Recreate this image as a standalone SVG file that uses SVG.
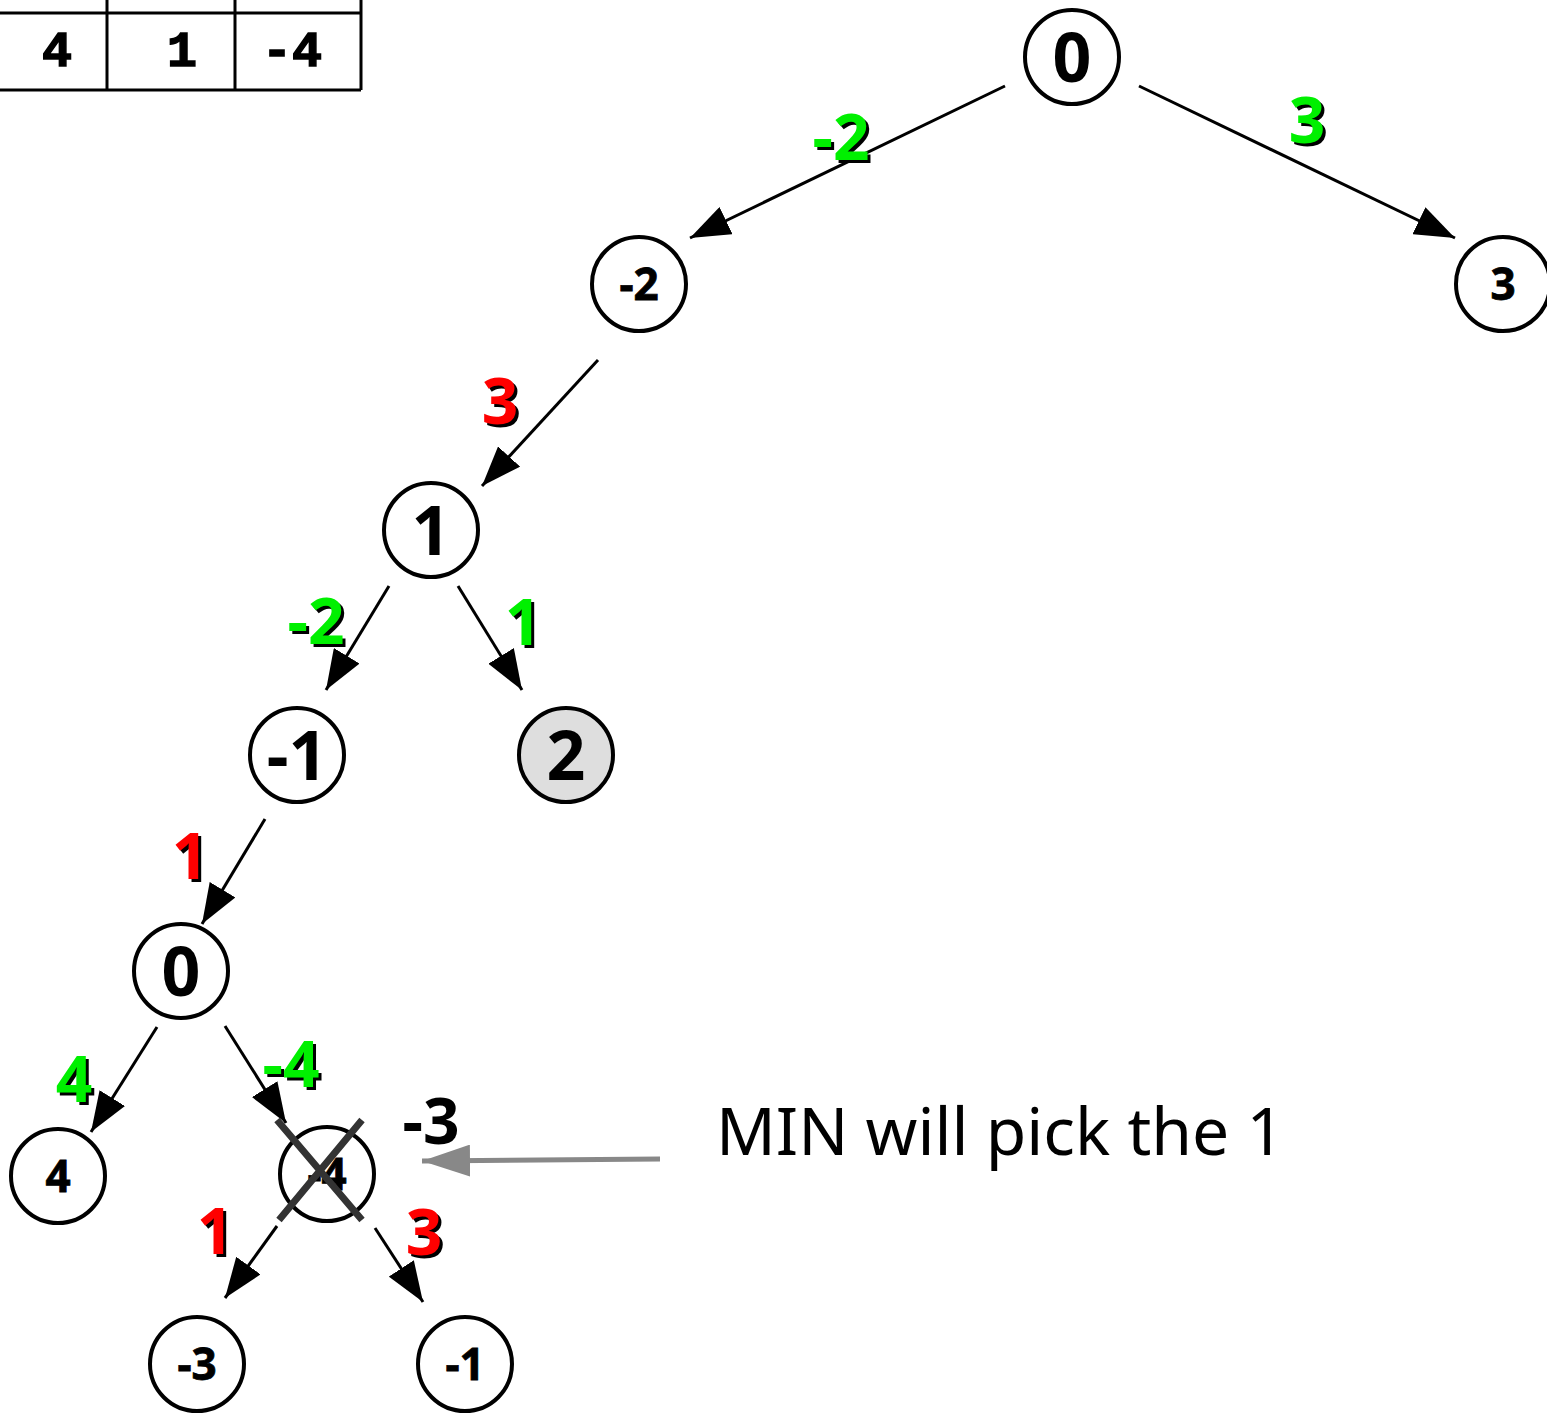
<svg xmlns="http://www.w3.org/2000/svg" width="1547" height="1415" viewBox="0 0 1547 1415">
  <style>
    .node circle { fill: #fff; stroke: #000; stroke-width: 4; }
    .node text { font-family: "Noto Sans", "DejaVu Sans", sans-serif; font-weight: bold; fill: #000; text-anchor: middle; }
    .big { font-size: 68px; }
    .small { font-size: 44px; stroke: #000; stroke-width: 0.8; }
    .edge { stroke: #000; stroke-width: 3; fill: none; marker-end: url(#arrow); }
    .lbl { font-family: "Noto Sans", "DejaVu Sans", sans-serif; font-weight: bold; font-size: 64px; text-anchor: middle; }
    .shadow { fill: #000; }
    .green { fill: #00f000; }
    .red { fill: #ff0000; }
    .tbl { stroke: #000; stroke-width: 3; fill: none; }
    .tbltxt { font-family: "Liberation Mono", "DejaVu Sans Mono", monospace; font-weight: bold; font-size: 50px; text-anchor: middle; stroke: #000; stroke-width: 1.5; }
  </style>
  <defs>
    <marker id="arrow" viewBox="0 0 40 30" refX="40" refY="15" markerWidth="40" markerHeight="30" orient="auto" markerUnits="userSpaceOnUse">
      <path d="M0,0 L40,15 L0,30 z" fill="#000"/>
    </marker>
    <marker id="grayArrow" viewBox="0 0 48 32" refX="48" refY="16" markerWidth="48" markerHeight="32" orient="auto" markerUnits="userSpaceOnUse">
      <path d="M0,0 L48,16 L0,32 z" fill="#888"/>
    </marker>
  </defs>

  <!-- score table (partly outside the page) -->
  <g id="table">
    <path class="tbl" d="M-5,13 H361 M-5,90 H361 M107,0 V90 M235,0 V90 M361,0 V90"/>
    <text class="tbltxt" x="57" y="66">4</text>
    <text class="tbltxt" x="182" y="66">1</text>
    <text class="tbltxt" x="292" y="66">-4</text>
  </g>

  <!-- connectors -->
  <g id="edges">
    <line class="edge" x1="1005" y1="86" x2="690" y2="238"/>
    <line class="edge" x1="1139" y1="86" x2="1455" y2="238"/>
    <line class="edge" x1="598" y1="360" x2="482" y2="486"/>
    <line class="edge" x1="389" y1="586" x2="326" y2="690"/>
    <line class="edge" x1="458" y1="586" x2="522" y2="690"/>
    <line class="edge" x1="265" y1="819" x2="202" y2="924"/>
    <line class="edge" x1="157" y1="1027" x2="91" y2="1132"/>
    <line class="edge" x1="225" y1="1026" x2="286" y2="1123"/>
    <line class="edge" x1="277" y1="1226" x2="225" y2="1298"/>
    <line class="edge" x1="375" y1="1228" x2="423" y2="1302"/>
    <line x1="660" y1="1159" x2="422" y2="1161" stroke="#888" stroke-width="5" marker-end="url(#grayArrow)"/>
  </g>

  <!-- edge labels -->
  <g id="labels">
    <text class="lbl shadow" x="844" y="163">-2</text><text class="lbl green" x="841" y="160">-2</text>
    <text class="lbl shadow" x="1310" y="146">3</text><text class="lbl green" x="1307" y="143">3</text>
    <text class="lbl shadow" x="503" y="427">3</text><text class="lbl red" x="500" y="424">3</text>
    <text class="lbl shadow" x="319" y="647">-2</text><text class="lbl green" x="316" y="644">-2</text>
    <text class="lbl shadow" x="526" y="648">1</text><text class="lbl green" x="523" y="645">1</text>
    <text class="lbl shadow" x="193" y="882">1</text><text class="lbl red" x="190" y="879">1</text>
    <text class="lbl shadow" x="77" y="1105">4</text><text class="lbl green" x="74" y="1102">4</text>
    <text class="lbl shadow" x="294" y="1090">-4</text><text class="lbl green" x="291" y="1087">-4</text>
    <text class="lbl shadow" x="218" y="1257">1</text><text class="lbl red" x="215" y="1254">1</text>
    <text class="lbl shadow" x="427" y="1258">3</text><text class="lbl red" x="424" y="1255">3</text>
    <text class="lbl" x="431" y="1144" fill="#000">-3</text>
    <text x="716" y="1155" font-family="'Noto Sans', 'Open Sans', sans-serif" font-size="66" fill="#000">MIN will pick the 1</text>
  </g>

  <!-- nodes -->
  <g id="n-root" class="node"><circle cx="1072" cy="57" r="47"/><text class="big" x="1072" y="82">0</text></g>
  <g id="n-m2" class="node"><circle cx="639" cy="284" r="47"/><text class="small" x="639" y="300">-2</text></g>
  <g id="n-3" class="node"><circle cx="1503" cy="284" r="47"/><text class="small" x="1503" y="300">3</text></g>
  <g id="n-1" class="node"><circle cx="431" cy="530" r="47"/><text class="big" x="431" y="555">1</text></g>
  <g id="n-m1" class="node"><circle cx="297" cy="755" r="47"/><text class="big" x="297" y="780">-1</text></g>
  <g id="n-2" class="node"><circle cx="566" cy="755" r="47" style="fill:#dedede"/><text class="big" x="566" y="780">2</text></g>
  <g id="n-0" class="node"><circle cx="181" cy="971" r="47"/><text class="big" x="181" y="996">0</text></g>
  <g id="n-4" class="node"><circle cx="58" cy="1176" r="47"/><text class="small" x="58" y="1192">4</text></g>
  <g id="n-m4" class="node"><circle cx="327" cy="1174" r="47"/><text class="small" x="327" y="1190">-4</text>
    <path d="M277,1120 L362,1220 M362,1120 L279,1220" stroke="#333" stroke-width="7" fill="none"/>
  </g>
  <g id="n-m3" class="node"><circle cx="197" cy="1364" r="47"/><text class="small" x="197" y="1380">-3</text></g>
  <g id="n-m1b" class="node"><circle cx="465" cy="1364" r="47"/><text class="small" x="465" y="1380">-1</text></g>
</svg>
